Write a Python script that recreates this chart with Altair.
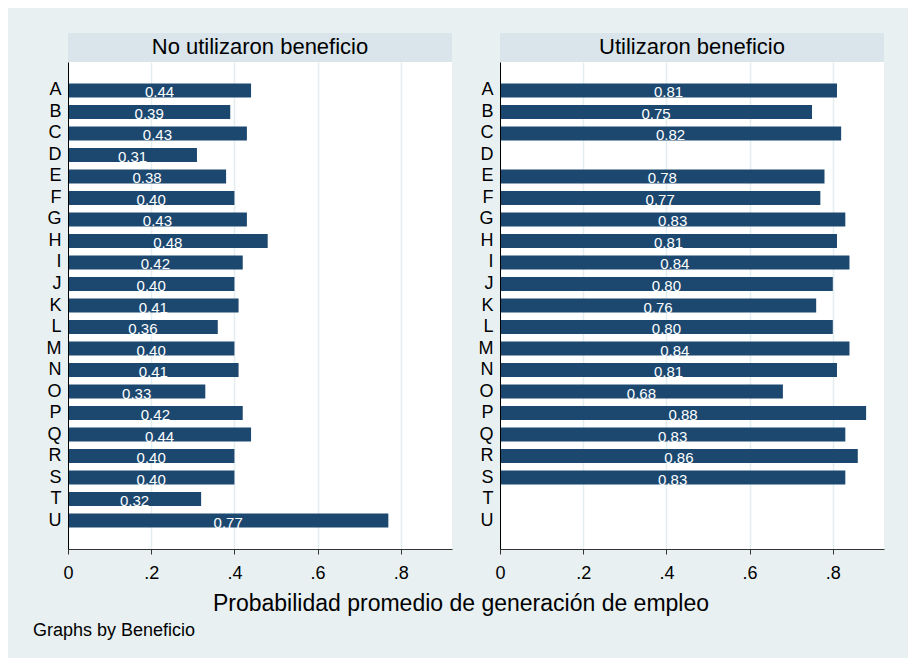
import altair as alt
import pandas as pd

categories = list("ABCDEFGHIJKLMNOPQRSTU")
no_utilizaron = [0.44, 0.39, 0.43, 0.31, 0.38, 0.40, 0.43, 0.48, 0.42, 0.40, 0.41,
                 0.36, 0.40, 0.41, 0.33, 0.42, 0.44, 0.40, 0.40, 0.32, 0.77]
utilizaron = [0.81, 0.75, 0.82, None, 0.78, 0.77, 0.83, 0.81, 0.84, 0.80, 0.76,
              0.80, 0.84, 0.81, 0.68, 0.88, 0.83, 0.86, 0.83, None, None]
panel_titles = ["No utilizaron beneficio", "Utilizaron beneficio"]
x_ticks = [0, 0.2, 0.4, 0.6, 0.8]
x_title = "Probabilidad promedio de generación de empleo"
note = "Graphs by Beneficio"

FONT = "Liberation Sans"
W, H, STRIP = 384, 487, 29
BG = "#E8F0F2"
STRIP_COLOR = "#D9E5EB"
BAR = "#1C4870"
XMAX = 0.923


def panel(title, values, footer=False):
    df = pd.DataFrame({"cat": categories, "val": values}).dropna()
    xs = alt.Scale(domain=[0, XMAX], nice=False, zero=True)
    ys = alt.Scale(domain=categories, paddingInner=0.35, paddingOuter=1.0)
    x_axis = alt.Axis(
        values=x_ticks,
        labelExpr="datum.value == 0 ? '0' : '.' + format(datum.value * 10, '.0f')",
        grid=True, gridColor="#E4EDF0", gridWidth=1.5,
        domainColor="#333333", domainWidth=1,
        tickColor="#333333", tickSize=5, tickWidth=1,
        labelFontSize=18, labelColor="#000000", labelFont=FONT, labelPadding=10,
        labelFlush=False, labelOverlap=False,
        title=None,
    )
    y_axis = alt.Axis(
        ticks=False, domainColor="#000000", domainWidth=1,
        labelFontSize=18, labelColor="#000000", labelFont=FONT, labelPadding=7,
        title=None, grid=False, zindex=1,
    )
    base = alt.Chart(df)
    bars = base.mark_bar(color=BAR).encode(
        x=alt.X("val:Q", scale=xs, axis=x_axis),
        y=alt.Y("cat:N", scale=ys, axis=y_axis, sort=categories),
    )
    labels = base.transform_calculate(mid="datum.val / 2").mark_text(
        color="white", fontSize=15, font=FONT, baseline="middle", dy=2
    ).encode(
        x=alt.X("mid:Q", scale=xs, axis=x_axis),
        y=alt.Y("cat:N", scale=ys, axis=y_axis, sort=categories),
        text=alt.Text("val:Q", format=".2f"),
    )
    strip_df = pd.DataFrame({"t": [title]})
    strip = alt.Chart(strip_df).mark_rect(color=STRIP_COLOR).encode(
        x=alt.value(0), x2=alt.value(W), y=alt.value(-STRIP), y2=alt.value(0)
    )
    strip_text = alt.Chart(strip_df).mark_text(
        fontSize=22, font=FONT, color="#000000", baseline="alphabetic", align="center"
    ).encode(x=alt.value(W / 2), y=alt.value(-8), text="t:N")
    layers = [strip, bars, labels, strip_text]
    if footer:
        tdf = pd.DataFrame({"t": [x_title]})
        ndf = pd.DataFrame({"t": [note]})
        t1 = alt.Chart(tdf).mark_text(
            fontSize=23, font=FONT, color="#000000", baseline="alphabetic", align="center"
        ).encode(x=alt.value(393), y=alt.value(548.5), text="t:N")
        t2 = alt.Chart(ndf).mark_text(
            fontSize=18, font=FONT, color="#000000", baseline="alphabetic", align="left"
        ).encode(x=alt.value(-35), y=alt.value(573.5), text="t:N")
        layers += [t1, t2]
    return alt.layer(*layers).properties(width=W, height=H)


left = panel(panel_titles[0], no_utilizaron, footer=True)
right = panel(panel_titles[1], utilizaron)

chart = alt.hconcat(left, right, spacing=48, bounds="flush").properties(
    background=BG,
    padding={"left": 25, "top": 25, "right": 24, "bottom": 18},
).configure_view(stroke=None, fill="#FFFFFF")

chart.save("out.html", embed_options={"renderer": "svg", "actions": False})
